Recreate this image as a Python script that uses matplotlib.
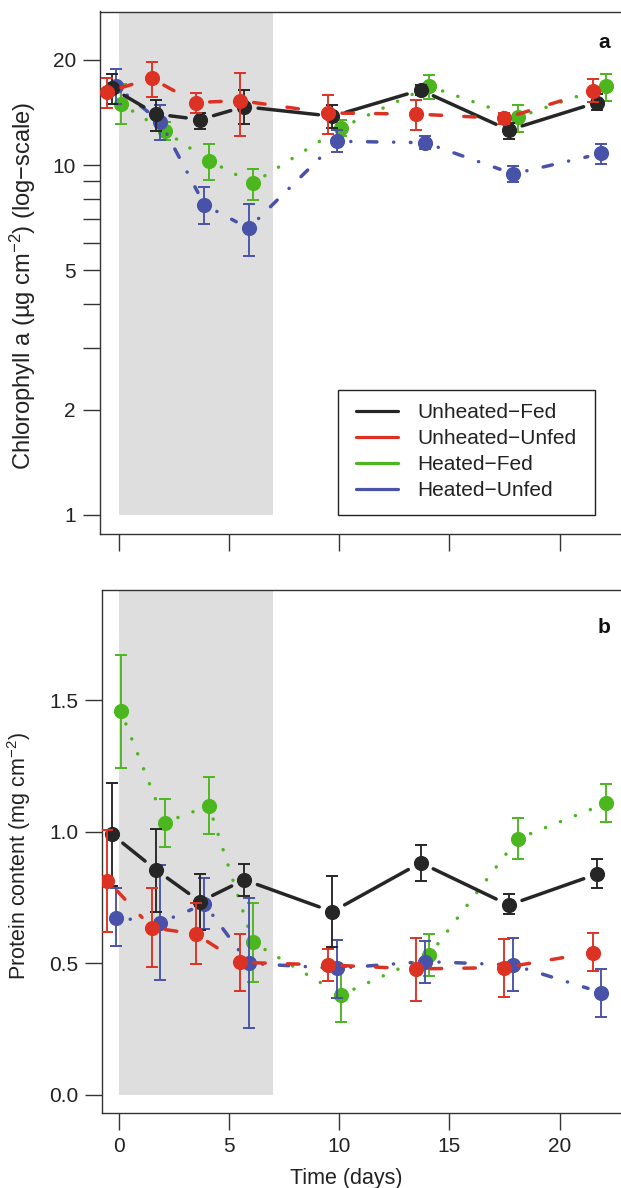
import matplotlib
matplotlib.use('Agg')
import matplotlib.pyplot as plt
import numpy as np
from matplotlib.lines import Line2D
from matplotlib.patches import Rectangle
from matplotlib.ticker import NullLocator, FixedLocator, FixedFormatter

plt.rcParams['font.family'] = ['Liberation Sans', 'DejaVu Sans']
plt.rcParams['mathtext.fontset'] = 'custom'
plt.rcParams['mathtext.rm'] = 'Liberation Sans'
plt.rcParams['mathtext.default'] = 'regular'

# ---------------- data ----------------
days = [0, 2, 4, 6, 10, 14, 18, 22]
groups = ['Unheated\u2212Fed', 'Unheated\u2212Unfed', 'Heated\u2212Fed', 'Heated\u2212Unfed']

# Chlorophyll a (ug cm-2): mean, lower, upper
chl_unheated_fed = [16.6, 14.0, 13.5, 14.7, 13.8, 16.4, 12.6, 15.1]
chl_unheated_fed_lo = [15.0, 12.5, 12.7, 13.1, 12.8, 15.9, 11.9, 14.4]
chl_unheated_fed_hi = [18.2, 15.4, 14.1, 16.4, 14.9, 16.9, 13.2, 16.0]

chl_unheated_unfed = [16.2, 17.7, 15.1, 15.3, 14.1, 14.0, 13.6, 16.3]
chl_unheated_unfed_lo = [14.6, 15.7, 14.1, 12.1, 12.3, 12.6, 13.1, 15.2]
chl_unheated_unfed_hi = [17.7, 19.7, 16.1, 18.4, 15.9, 15.4, 14.1, 17.6]

chl_heated_fed = [15.0, 12.5, 10.3, 8.88, 12.8, 16.8, 13.7, 16.8]
chl_heated_fed_lo = [13.1, 11.8, 9.07, 7.95, 12.1, 15.5, 12.4, 15.3]
chl_heated_fed_hi = [17.1, 13.3, 11.5, 9.78, 13.5, 18.1, 14.9, 18.2]

chl_heated_unfed = [16.8, 13.3, 7.70, 6.60, 11.7, 11.6, 9.44, 10.8]
chl_heated_unfed_lo = [15.0, 11.8, 6.77, 5.50, 10.9, 11.1, 8.95, 10.1]
chl_heated_unfed_hi = [18.8, 14.9, 8.67, 7.74, 12.6, 12.1, 9.96, 11.5]

# Protein content (mg cm-2): mean, lower, upper
prot_unheated_fed = [0.990, 0.855, 0.734, 0.817, 0.696, 0.882, 0.721, 0.839]
prot_unheated_fed_lo = [0.795, 0.696, 0.626, 0.757, 0.563, 0.814, 0.686, 0.785]
prot_unheated_fed_hi = [1.185, 1.011, 0.839, 0.876, 0.832, 0.949, 0.762, 0.896]

prot_unheated_unfed = [0.814, 0.635, 0.611, 0.503, 0.493, 0.478, 0.483, 0.540]
prot_unheated_unfed_lo = [0.617, 0.484, 0.496, 0.395, 0.433, 0.357, 0.370, 0.470]
prot_unheated_unfed_hi = [1.007, 0.784, 0.728, 0.610, 0.554, 0.595, 0.592, 0.614]

prot_heated_fed = [1.460, 1.035, 1.099, 0.579, 0.379, 0.531, 0.973, 1.108]
prot_heated_fed_lo = [1.244, 0.943, 0.992, 0.429, 0.275, 0.451, 0.898, 1.038]
prot_heated_fed_hi = [1.674, 1.125, 1.207, 0.730, 0.485, 0.610, 1.051, 1.180]

prot_heated_unfed = [0.673, 0.654, 0.725, 0.499, 0.480, 0.506, 0.493, 0.388]
prot_heated_unfed_lo = [0.565, 0.436, 0.629, 0.252, 0.369, 0.423, 0.394, 0.294]
prot_heated_unfed_hi = [0.784, 0.874, 0.823, 0.747, 0.588, 0.584, 0.595, 0.478]

heat_period = [0, 7]
chl_ticks = [1, 2, 3, 4, 5, 6, 7, 8, 9, 10, 20]
chl_ticklabels = ['1', '2', '', '', '5', '', '', '', '', '10', '20']
prot_ticks = [0.0, 0.5, 1.0, 1.5]
prot_ticklabels = ['0.0', '0.5', '1.0', '1.5']
x_ticks = [0, 5, 10, 15, 20]

# ---------------- styles ----------------
colors = {'Unheated\u2212Fed': '#262626', 'Unheated\u2212Unfed': '#dc3223',
          'Heated\u2212Fed': '#4cb61e', 'Heated\u2212Unfed': '#4852a8'}
dash = {'Unheated\u2212Fed': None, 'Unheated\u2212Unfed': (3.3, 6.4),
        'Heated\u2212Fed': (0.03, 4.6), 'Heated\u2212Unfed': (0.03, 4.8, 2.7, 4.8)}
dodge = {'Unheated\u2212Fed': -0.3, 'Unheated\u2212Unfed': -0.5,
         'Heated\u2212Fed': 0.1, 'Heated\u2212Unfed': -0.1}
zord = {'Heated\u2212Fed': 3, 'Heated\u2212Unfed': 4, 'Unheated\u2212Fed': 5, 'Unheated\u2212Unfed': 6}

W, H = 621, 1188
DPI = 100
fig = plt.figure(figsize=(W / DPI, H / DPI), dpi=DPI)

PXDAY = 22.05
X0 = 118.5
FS = 15


def px_axes(left, top, right, bottom):
    ax = fig.add_axes([left / W, 1 - bottom / H, (right - left) / W, (bottom - top) / H])
    ax.set_xlim((left - X0) / PXDAY, (right - X0) / PXDAY)
    return ax


axA = px_axes(99.5, 11.5, 640, 534.2)
axB = px_axes(102, 590, 640, 1113)

axA.set_yscale('log')
axA.set_ylim(0.881, 27.5)
axB.set_ylim(-0.0704, 1.920)

for ax in (axA, axB):
    ax.spines['right'].set_visible(False)
    for s in ('left', 'top', 'bottom'):
        ax.spines[s].set_linewidth(1.0)
        ax.spines[s].set_color('#333333')
    ax.xaxis.set_major_locator(FixedLocator(x_ticks))
    ax.xaxis.set_minor_locator(NullLocator())
    ax.tick_params(axis='both', direction='out', length=12, width=1.0,
                   color='#333333', labelsize=FS, labelcolor='#222222', pad=5)
    ax.set_facecolor('white')

axA.tick_params(axis='x', labelbottom=False)
axA.yaxis.set_major_locator(FixedLocator(chl_ticks))
axA.yaxis.set_major_formatter(FixedFormatter(chl_ticklabels))
axA.yaxis.set_minor_locator(NullLocator())
axB.yaxis.set_major_locator(FixedLocator(prot_ticks))
axB.yaxis.set_major_formatter(FixedFormatter(prot_ticklabels))
axB.set_xticklabels([str(t) for t in x_ticks])

axA.fill_between(heat_period, 1, 1000, color='#dedede', lw=0, zorder=0.5)
axB.fill_between(heat_period, 0, 10, color='#dedede', lw=0, zorder=0.5)

GAP = 14.0


def draw_series(ax, g, y, lo, hi):
    x = np.array(days, float) + dodge[g]
    y = np.array(y, float)
    c = colors[g]
    z = zord[g]
    lw = 2.5
    pts = ax.transData.transform(np.column_stack([x, y]))
    inv = ax.transData.inverted()
    for i in range(len(x) - 1):
        p, q = pts[i], pts[i + 1]
        d = q - p
        L = np.hypot(*d)
        if L <= 2 * GAP:
            continue
        u = d / L
        seg = inv.transform(np.array([p + u * GAP, q - u * GAP]))
        kw = dict(color=c, lw=lw, zorder=z, solid_capstyle='round', dash_capstyle='round')
        if dash[g] is None:
            ax.plot(seg[:, 0], seg[:, 1], '-', **kw)
        else:
            ax.plot(seg[:, 0], seg[:, 1], linestyle=(0, dash[g]), **kw)
    yerr = np.vstack([y - np.array(lo), np.array(hi) - y])
    ax.errorbar(x, y, yerr=yerr, fmt='o', ms=9.9, mfc=c, mec=c,
                ecolor=c, elinewidth=1.35, capsize=4.5, capthick=1.4, zorder=z + 0.1)


chl_data = {
    'Heated\u2212Fed': (chl_heated_fed, chl_heated_fed_lo, chl_heated_fed_hi),
    'Heated\u2212Unfed': (chl_heated_unfed, chl_heated_unfed_lo, chl_heated_unfed_hi),
    'Unheated\u2212Fed': (chl_unheated_fed, chl_unheated_fed_lo, chl_unheated_fed_hi),
    'Unheated\u2212Unfed': (chl_unheated_unfed, chl_unheated_unfed_lo, chl_unheated_unfed_hi),
}
prot_data = {
    'Heated\u2212Fed': (prot_heated_fed, prot_heated_fed_lo, prot_heated_fed_hi),
    'Heated\u2212Unfed': (prot_heated_unfed, prot_heated_unfed_lo, prot_heated_unfed_hi),
    'Unheated\u2212Fed': (prot_unheated_fed, prot_unheated_fed_lo, prot_unheated_fed_hi),
    'Unheated\u2212Unfed': (prot_unheated_unfed, prot_unheated_unfed_lo, prot_unheated_unfed_hi),
}
for g, (m, lo, hi) in chl_data.items():
    draw_series(axA, g, m, lo, hi)
for g, (m, lo, hi) in prot_data.items():
    draw_series(axB, g, m, lo, hi)

# legend
handles = [Line2D([0], [0], color=colors[g], lw=2.3, solid_capstyle='round') for g in groups]
leg = axA.legend(handles, groups, loc='upper left',
                 bbox_to_anchor=(356 / W, 1 - 403.5 / H), bbox_transform=fig.transFigure,
                 frameon=False, borderpad=0, borderaxespad=0, handlelength=2.02,
                 handletextpad=0.91, labelspacing=0.33, fontsize=FS)
leg.set_zorder(10)
for t in leg.get_texts():
    t.set_color('#222222')
fig.add_artist(Rectangle((337.7 / W, 1 - 515 / H), (595 - 337.7) / W, 125 / H,
                         transform=fig.transFigure, fill=False, lw=1.0, ec='#222222'))

# labels
fig.text(23 / W, 1 - 286 / H, 'Chlorophyll a (\u00b5g cm$^{-2}$) (log\u2212scale)',
         rotation=90, ha='center', va='center', fontsize=17, color='#222222')
fig.text(19 / W, 1 - 856 / H, 'Protein content (mg cm$^{-2}$)',
         rotation=90, ha='center', va='center', fontsize=15.5, color='#222222')
fig.text(346 / W, 1 - 1184 / H, 'Time (days)', ha='center', va='baseline',
         fontsize=15.5, color='#222222')
fig.text(610 / W, 1 - 47.7 / H, 'a', ha='right', va='baseline', fontsize=FS,
         fontweight='bold', color='#111111')
fig.text(610 / W, 1 - 633 / H, 'b', ha='right', va='baseline', fontsize=FS,
         fontweight='bold', color='#111111')

fig.savefig('out.png', dpi=DPI)
